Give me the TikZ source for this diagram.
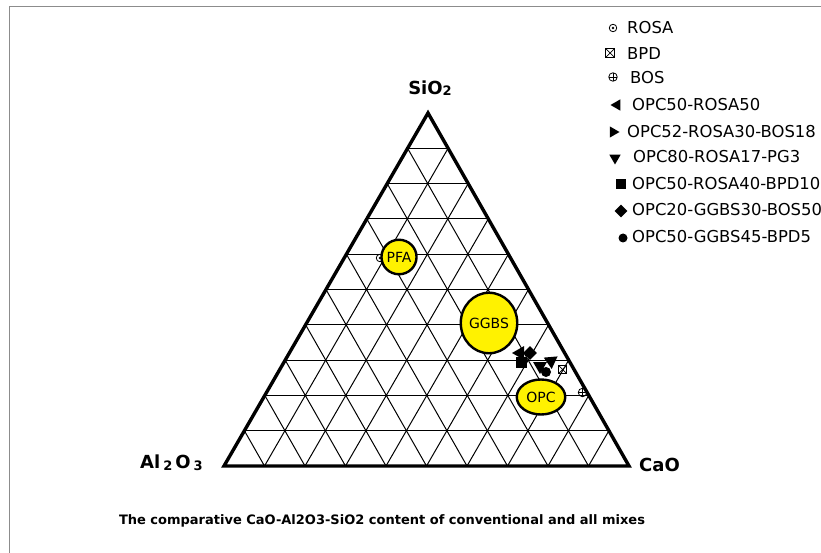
\documentclass[tikz,border=0pt]{standalone}
\usepackage{fontspec}
\setmainfont{DejaVu Sans}
\usetikzlibrary{shapes.geometric,calc}
\newcommand{\mysub}[1]{\raisebox{-1.5pt}{\fontsize{13}{13}\selectfont #1}}
\begin{document}
\begin{tikzpicture}[x=1pt,y=-1pt,
  gridline/.style={black,line width=1pt},
  outline/.style={black,line width=3.4pt,line join=miter},
  blob/.style={ellipse,draw=black,line width=2.4pt,fill=yellow,inner sep=0pt,font=\fontsize{14}{14}\selectfont},
  axislab/.style={font=\bfseries\fontsize{18}{20}\selectfont,inner sep=0pt},
  legtext/.style={anchor=west,inner sep=0pt,font=\fontsize{16.4}{18}\selectfont},
  mrosa/.style={circle,draw=black,line width=0.8pt,minimum size=7.5pt,inner sep=0pt,
     path picture={\fill[black] (path picture bounding box.center) circle (1.3pt);}},
  mbpd/.style={rectangle,draw=black,line width=0.8pt,minimum size=8.5pt,inner sep=0pt,
     path picture={\draw[line width=0.7pt] (path picture bounding box.north west) -- (path picture bounding box.south east)
        (path picture bounding box.north east) -- (path picture bounding box.south west);}},
  mbos/.style={circle,draw=black,line width=0.8pt,minimum size=8.5pt,inner sep=0pt,
     path picture={\draw[line width=0.7pt] (path picture bounding box.north) -- (path picture bounding box.south)
        (path picture bounding box.east) -- (path picture bounding box.west);}},
  mtri/.style={regular polygon,regular polygon sides=3,fill=black,inner sep=0pt,minimum size=16pt},
  mtl/.style={mtri,shape border rotate=90},
  mtr/.style={mtri,shape border rotate=-90},
  mtd/.style={mtri,shape border rotate=180},
  msq/.style={rectangle,fill=black,minimum size=11pt,inner sep=0pt},
  mdia/.style={diamond,fill=black,minimum size=14pt,inner sep=0pt},
  mdot/.style={circle,fill=black,minimum size=10pt,inner sep=0pt},
  frameline/.style={draw=gray!90,line width=1.3pt}
]
\useasboundingbox (0,0) rectangle (821,553);
\fill[white] (0,0) rectangle (821,553);
% frame
\coordinate (f1) at (9.5,553);
\coordinate (f2) at (9.5,6.5);
\coordinate (f3) at (821,6.5);
\draw[frameline] (f1) -- (f2) -- (f3);

% triangle
\coordinate (A) at (428,113);
\coordinate (L) at (224,466);
\coordinate (R) at (629,466);
\foreach \i in {1,...,9} {
  \draw[gridline] ($(L)!\i/10!(R)$) -- ($(A)!\i/10!(R)$);
  \draw[gridline] ($(L)!\i/10!(R)$) -- ($(L)!\i/10!(A)$);
  \draw[gridline] ($(L)!\i/10!(A)$) -- ($(R)!\i/10!(A)$);
}
\draw[outline] (A) -- (L) -- (R) -- cycle;

% axis labels
\node[axislab] (sio2) at (430,88) {SiO\mysub{2}};
\node[axislab,anchor=west] (al2o3) at (140,463) {Al\,\mysub{2}\,O\,\mysub{3}};
\node[axislab,anchor=west] (cao) at (639,465) {CaO};

% conventional materials
\node[mrosa] (rosa) at (380,258) {};
\node[blob,minimum width=29.5pt,minimum height=34.5pt] (pfa) at (399,257) {PFA};
\node[blob,minimum width=52.5pt,minimum height=60.5pt] (ggbs) at (489,323) {GGBS};
\node[blob,minimum width=48.5pt,minimum height=35pt] (opc) at (541,397) {OPC};
\node[mbpd] (bpd) at (562.5,369.5) {};
\node[mbos] (bos) at (582.5,392.5) {};

% mixes
\node[mtl] (m1) at (520,353) {};
\node[msq] (m4) at (521,362) {};
\node[mdia] (m5) at (530,353) {};
\node[mtd] (m3) at (540,366) {};
\node[mtr,rotate=35] (m2) at (551,361) {};
\node[mdot] (m6) at (546,372) {};

% legend
\node[mrosa] (l1) at (613,28) {};
\node[legtext] (t1) at (627,28) {ROSA};
\node[mbpd] (l2) at (610,53) {};
\node[legtext] (t2) at (627,54) {BPD};
\node[mbos] (l3) at (613,77) {};
\node[legtext] (t3) at (630,78) {BOS};
\node[mtl,minimum size=13pt] (l4) at (617,105) {};
\node[legtext] (t4) at (632,105) {OPC50-ROSA50};
\node[mtr,minimum size=13pt] (l5) at (613,132) {};
\node[legtext] (t5) at (627,132) {OPC52-ROSA30-BOS18};
\node[mtd,minimum size=13pt] (l6) at (615,158) {};
\node[legtext] (t6) at (633,157) {OPC80-ROSA17-PG3};
\node[msq,minimum size=10pt] (l7) at (621,184) {};
\node[legtext] (t7) at (632,184) {OPC50-ROSA40-BPD10};
\node[mdia,minimum size=13pt] (l8) at (621,211) {};
\node[legtext] (t8) at (632,210) {OPC20-GGBS30-BOS50};
\node[mdot,minimum size=9pt] (l9) at (623,238) {};
\node[legtext] (t9) at (632,237) {OPC50-GGBS45-BPD5};

% title
\node[font=\bfseries\fontsize{13}{15}\selectfont,inner sep=0pt] (title) at (382,521)
  {The comparative CaO-Al2O3-SiO2 content of conventional and all mixes};
\end{tikzpicture}
\end{document}
